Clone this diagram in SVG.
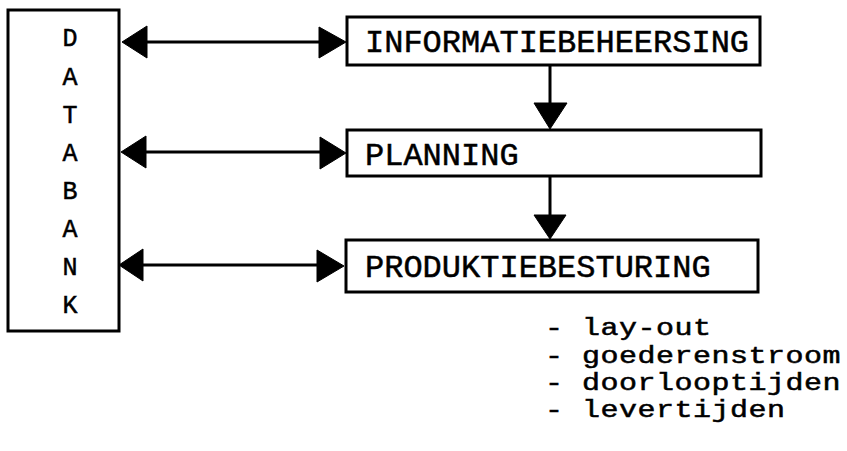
<svg xmlns="http://www.w3.org/2000/svg" width="847" height="451" viewBox="0 0 847 451">
<style>
.box{fill:#fff;stroke:#000;stroke-width:3}
.ln{stroke:#000;stroke-width:3;fill:none}
.hd{fill:#000;stroke:#000;stroke-width:1}
.t{font-family:"Liberation Mono","DejaVu Sans Mono",monospace;fill:#000;stroke:#000;stroke-width:0.5}
.big{font-size:32px}
.db{font-size:25px;text-anchor:middle}
.lst{font-size:24px;letter-spacing:0.4px}
</style>
<rect width="847" height="451" fill="#fff"/>
<g id="databank">
<rect class="box" x="8" y="10" width="111" height="321"/>
<text class="t db" x="70" y="46">D</text>
<text class="t db" x="70" y="85">A</text>
<text class="t db" x="70" y="123">T</text>
<text class="t db" x="70" y="161">A</text>
<text class="t db" x="70" y="199">B</text>
<text class="t db" x="70" y="237">A</text>
<text class="t db" x="70" y="275">N</text>
<text class="t db" x="70" y="313">K</text>
</g>
<g id="informatiebeheersing">
<rect class="box" x="347" y="17" width="413" height="48"/>
<text class="t big" x="365" y="52">INFORMATIEBEHEERSING</text>
</g>
<g id="planning">
<rect class="box" x="347" y="130" width="414" height="46"/>
<text class="t big" x="365" y="165">PLANNING</text>
</g>
<g id="produktiebesturing">
<rect class="box" x="346" y="240" width="412" height="52"/>
<text class="t big" x="365" y="277">PRODUKTIEBESTURING</text>
</g>
<g id="list" transform="translate(545,0) scale(1.25,1)">
<text class="t lst" x="0" y="335">- lay-out</text>
<text class="t lst" x="0" y="363">- goederenstroom</text>
<text class="t lst" x="0" y="390">- doorlooptijden</text>
<text class="t lst" x="0" y="417">- levertijden</text>
</g>
<g id="connectors">
<line class="ln" x1="145" y1="42" x2="321" y2="42"/>
<polygon class="hd" points="122,42 147,26 147,58"/>
<polygon class="hd" points="346,42 319,27 319,58"/>
<line class="ln" x1="145" y1="152" x2="321" y2="152"/>
<polygon class="hd" points="121,152 146,136 146,168"/>
<polygon class="hd" points="346,153 320,137 320,169"/>
<line class="ln" x1="142" y1="265" x2="318" y2="265"/>
<polygon class="hd" points="119,265 143,249 143,281"/>
<polygon class="hd" points="344,266 317,250 317,282"/>
<line class="ln" x1="550" y1="65" x2="550" y2="105"/>
<polygon class="hd" points="534,103 567,103 550,129"/>
<line class="ln" x1="550" y1="176" x2="550" y2="216"/>
<polygon class="hd" points="534,215 566,215 550,239"/>
</g>
</svg>
